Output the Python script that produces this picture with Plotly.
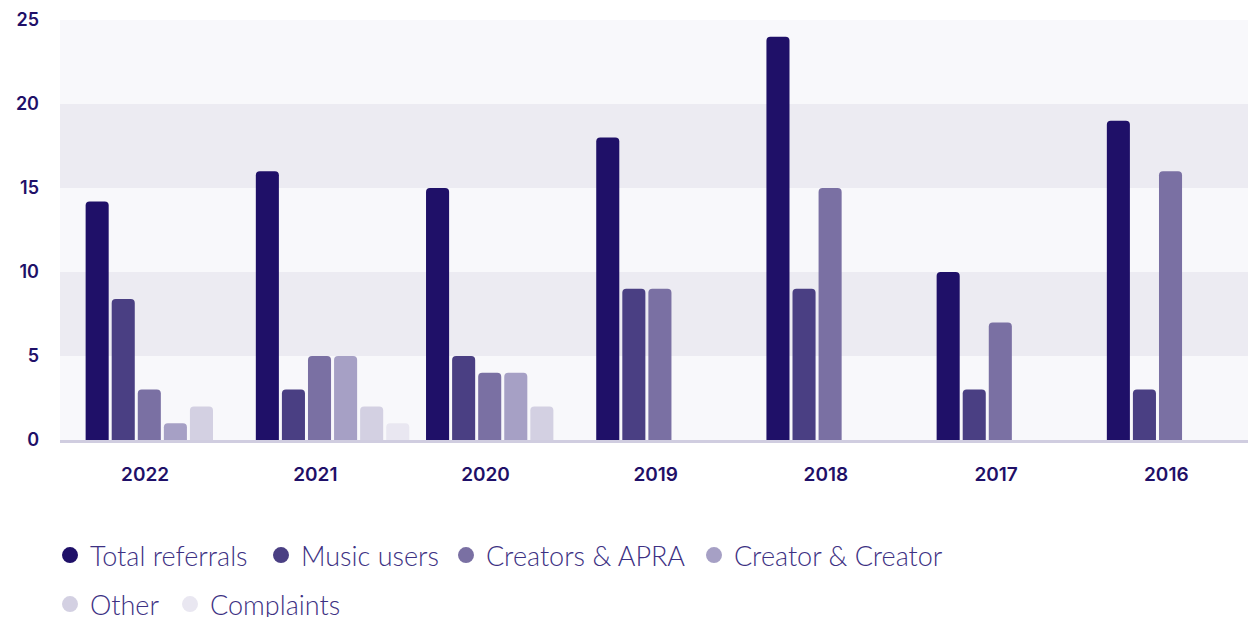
import plotly.graph_objects as go

# ---- data ----
years = ["2022", "2021", "2020", "2019", "2018", "2017", "2016"]
series_names = ["Total referrals", "Music users", "Creators & APRA",
                "Creator & Creator", "Other", "Complaints"]
total_referrals = [14.2, 16, 15, 18, 24, 10, 19]
music_users = [8.4, 3, 5, 9, 9, 3, 3]
creators_apra = [3, 5, 4, 9, 15, 7, 16]
creator_creator = [1, 5, 4, None, None, None, None]
other = [2, 2, 2, None, None, None, None]
complaints = [None, 1, None, None, None, None, None]
y_ticks = [0, 5, 10, 15, 20, 25]

series_values = [total_referrals, music_users, creators_apra,
                 creator_creator, other, complaints]
colors = ["#1f1068", "#4a3f83", "#7a70a3", "#a6a0c5", "#d3d0e2", "#e9e7f1"]

TEXT_DARK = "#1f1068"
LEGEND_TEXT = "#3d3183"

# legend entry placement (pixel position of each marker, and row top)
legend_marker_x = [70, 281, 466, 714, 70, 190]
legend_row_top = [531, 531, 531, 531, 580, 580]

fig = go.Figure()

slot = 0.1532
bar_w = 0.1355
start = -0.3494
for i, (name, vals, col) in enumerate(zip(series_names, series_values, colors)):
    fig.add_trace(go.Bar(
        x=years, y=vals, name=name, marker_color=col,
        marker_line_width=0, marker_cornerradius=4,
        offset=start + i * slot, width=bar_w,
        showlegend=False, hoverinfo="x+y+name",
    ))

# legend proxies (circles), one legend per entry so each can be placed
legend_layouts = {}
for i, (name, col) in enumerate(zip(series_names, colors)):
    key = "legend" if i == 0 else f"legend{i + 1}"
    fig.add_trace(go.Scatter(
        x=[None], y=[None], mode="markers", name=name,
        marker=dict(symbol="circle", size=16, color=col),
        legend=key,
    ))
    legend_layouts[key] = dict(
        orientation="h", xref="container", yref="container",
        xanchor="left", yanchor="top", bgcolor="rgba(0,0,0,0)",
        font=dict(family="Lato", size=27, color=LEGEND_TEXT, weight=300),
        itemwidth=30, itemclick=False, itemdoubleclick=False,
        x=(legend_marker_x[i] - 20) / 1248,
        y=1 - legend_row_top[i] / 617,
    )

# alternating bands
shapes = []
for k in range(len(y_ticks) - 1):
    if k % 2 == 1:
        shapes.append(dict(type="rect", xref="paper", yref="y",
                           x0=0, x1=1, y0=y_ticks[k], y1=y_ticks[k + 1],
                           fillcolor="#ecebf2", line_width=0, layer="below"))

fig.update_layout(
    width=1248, height=617,
    margin=dict(l=60, r=0, t=20, b=177),
    paper_bgcolor="white", plot_bgcolor="#f8f8fb",
    barmode="overlay",
    shapes=shapes,
    xaxis=dict(
        type="category", range=[-0.5, 6.48], showgrid=False, zeroline=False,
        showline=True, linecolor="#d0cde0", linewidth=3,
        ticks="", ticklabelstandoff=15,
        tickfont=dict(family="Inter", size=19, color=TEXT_DARK, weight=600),
        fixedrange=True,
    ),
    yaxis=dict(
        range=[0, 25], tickvals=y_ticks, showgrid=False, zeroline=False,
        showline=False, ticks="", ticklabelstandoff=20,
        tickfont=dict(family="Inter", size=18, color=TEXT_DARK, weight=600),
        fixedrange=True,
    ),
    showlegend=True,
    **legend_layouts,
)

fig.write_html("out.html")
